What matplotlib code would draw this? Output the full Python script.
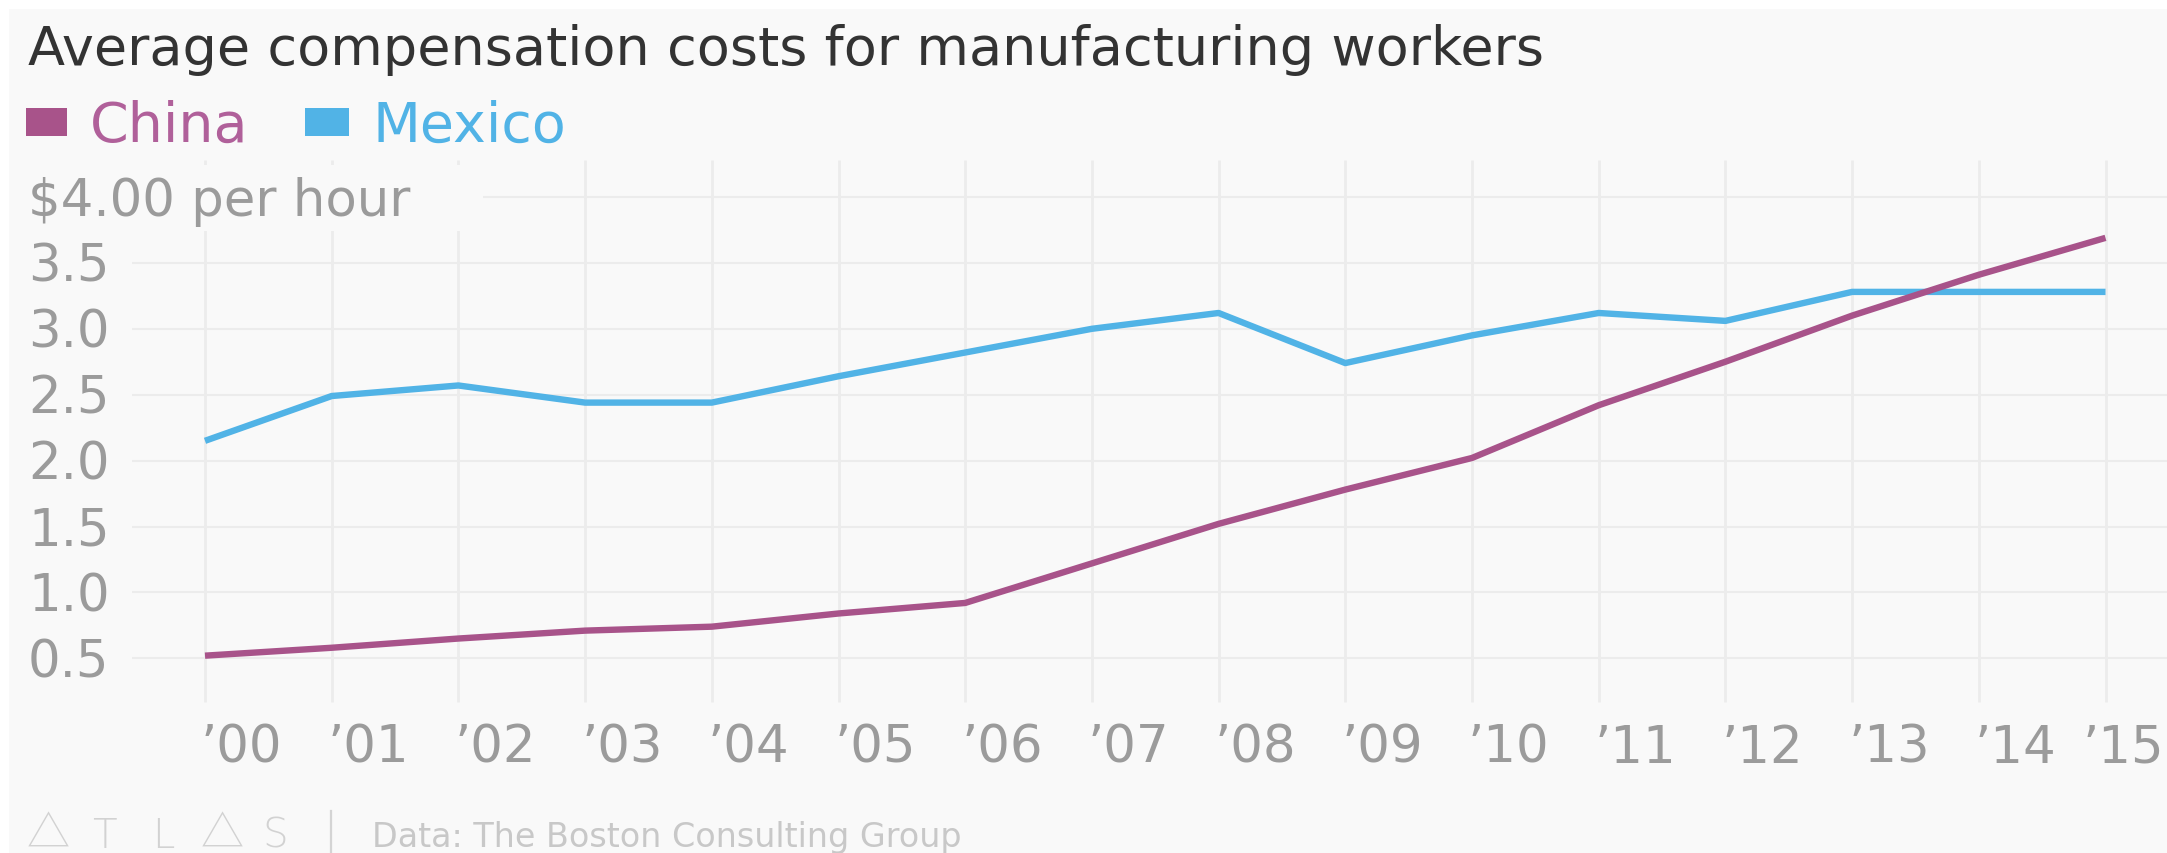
import matplotlib
matplotlib.use("Agg")
import matplotlib.pyplot as plt
from matplotlib.patches import Rectangle
from matplotlib.lines import Line2D
import matplotlib.transforms as mtransforms

# ---------------- data ----------------
years = list(range(2000, 2016))
year_labels = ["\u2019%02d" % (y % 100) for y in years]
china = [0.52, 0.58, 0.65, 0.71, 0.74, 0.84, 0.92, 1.22, 1.52, 1.78, 2.02, 2.42, 2.75, 3.10, 3.41, 3.69]
mexico = [2.15, 2.49, 2.57, 2.44, 2.44, 2.64, 2.82, 3.00, 3.12, 2.74, 2.95, 3.12, 3.06, 3.28, 3.28, 3.28]
y_ticks = [0.5, 1.0, 1.5, 2.0, 2.5, 3.0, 3.5]
y_tick_labels = ["0.5", "1.0", "1.5", "2.0", "2.5", "3.0", "3.5"]
top_tick = 4.0
top_tick_label = "$4.00 per hour"
series_names = ["China", "Mexico"]
title = "Average compensation costs for manufacturing workers"
source = "Data: The Boston Consulting Group"
logo_chars = ["\u25b3", "T", "L", "\u25b3", "S"]

# ---------------- style ----------------
W, H = 2167, 854
BG = "#f9f9f9"
GRID = "#ececec"
C_CHINA = "#a8538a"
C_CHINA_TXT = "#b0609a"
C_MEX = "#51b3e6"
LABEL = "#9b9b9b"
TITLE_C = "#333333"
FOOT = "#c8c8c8"
FONT = "DejaVu Sans"

fig = plt.figure(figsize=(W / 100, H / 100), dpi=100)
fig.patch.set_facecolor("white")

def fx(x):
    return x / W

def fy(y):
    return 1 - y / H

# gray panel (small white margin on top/left)
fig.patches.append(Rectangle((fx(9), 0), 1 - fx(9), fy(10), transform=fig.transFigure,
                             facecolor=BG, edgecolor="none", zorder=-10))

ax = fig.add_axes([0, 0, 1, 1])
ax.set_facecolor("none")
for s in ax.spines.values():
    s.set_visible(False)
ax.set_xticks([])
ax.set_yticks([])

# pixel mapping of the scales
x0_px, x_step = 205.0, 126.7
y05_px, y_step = 659.3, 131.8
ax.set_xlim(2000 - x0_px / x_step, 2000 + (W - x0_px) / x_step)
ax.set_ylim(0.5 - (H - y05_px) / y_step, 0.5 + y05_px / y_step)

def px2x(px):
    return 2000 + (px - x0_px) / x_step

def px2v(py):
    return 0.5 + (y05_px - py) / y_step

x_right = ax.get_xlim()[1]

# vertical grid lines
ax.vlines(years, px2v(703), px2v(161), colors=GRID, linewidth=1.95, zorder=1)
# horizontal grid lines
ax.hlines(y_ticks, px2x(132), x_right, colors=GRID, linewidth=1.45, zorder=1)
ax.hlines([top_tick], px2x(483), x_right, colors=GRID, linewidth=1.45, zorder=1)
# background box behind the "$4.00 per hour" label
ax.add_patch(Rectangle((px2x(9), px2v(232)), px2x(483) - px2x(9), px2v(166) - px2v(232),
                       facecolor=BG, edgecolor="none", zorder=2))

# data lines
ax.plot(years, mexico, color=C_MEX, linewidth=4.6, solid_joinstyle="round",
        solid_capstyle="butt", zorder=4)
ax.plot(years, china, color=C_CHINA, linewidth=4.6, solid_joinstyle="round",
        solid_capstyle="butt", zorder=5)

# y tick labels (baseline shifted down so the digits are centred on the line)
lab_fs = 37
base_off = mtransforms.offset_copy(ax.transData, fig=fig, x=0, y=-18, units="dots")
ylab_tr = mtransforms.blended_transform_factory(fig.transFigure, base_off)
for v, t in zip(y_ticks, y_tick_labels):
    ax.text(fx(28), v, t, transform=ylab_tr, ha="left", va="baseline",
            fontsize=lab_fs, color=LABEL, family=FONT, zorder=6)
ax.text(fx(28), top_tick, top_tick_label, transform=ylab_tr, ha="left", va="baseline",
        fontsize=lab_fs, color=LABEL, family=FONT, zorder=6)

# x tick labels
xlab_tr = mtransforms.blended_transform_factory(
    mtransforms.offset_copy(ax.transData, fig=fig, x=-4, y=0, units="dots"), fig.transFigure)
for i, (yr, t) in enumerate(zip(years, year_labels)):
    if i == len(years) - 1:
        # last label kept inside the picture
        fig.text(fx(W - 3), fy(763), t, ha="right", va="baseline",
                 fontsize=lab_fs, color=LABEL, family=FONT)
    else:
        ax.text(yr, fy(763), t, transform=xlab_tr, ha="left", va="baseline",
                fontsize=lab_fs, color=LABEL, family=FONT, zorder=6, clip_on=False)

# title
fig.text(fx(28), fy(65), title, ha="left", va="baseline", fontsize=39,
         color=TITLE_C, family=FONT)

# legend
leg_sq = [(26, 67), (305, 349)]
leg_txt_x = [90, 373]
leg_cols = [C_CHINA, C_MEX]
leg_txt_cols = [C_CHINA_TXT, C_MEX]
for (a, b), tx, c, tc, name in zip(leg_sq, leg_txt_x, leg_cols, leg_txt_cols, series_names):
    fig.patches.append(Rectangle((fx(a), fy(137)), fx(b) - fx(a), fy(109) - fy(137),
                                 transform=fig.transFigure, facecolor=c, edgecolor="none"))
    fig.text(fx(tx), fy(142), name, ha="left", va="baseline", fontsize=40,
             color=tc, family=FONT)

# footer: ATLAS logo, separator, source
logo_x = [48, 104, 163, 222, 275]
for ch, lx in zip(logo_chars, logo_x):
    if ch == "\u25b3":
        fig.text(fx(lx), fy(848), ch, ha="center", va="baseline", fontsize=31,
                 color="#d2d2d2", family=["Noto Sans CJK JP", "DejaVu Sans"],
                 fontweight="light")
    else:
        fig.text(fx(lx), fy(848), ch, ha="center", va="baseline", fontsize=29,
                 color="#d2d2d2", family=[FONT, "Noto Sans CJK JP"], fontweight="light")
fig.add_artist(Line2D([fx(331), fx(331)], [fy(812), fy(853)], transform=fig.transFigure,
                      color="#d4d4d4", linewidth=1.6))
fig.text(fx(372), fy(847), source, ha="left", va="baseline", fontsize=24,
         color=FOOT, family=FONT)

fig.savefig("out.png", dpi=100, facecolor=fig.get_facecolor())
